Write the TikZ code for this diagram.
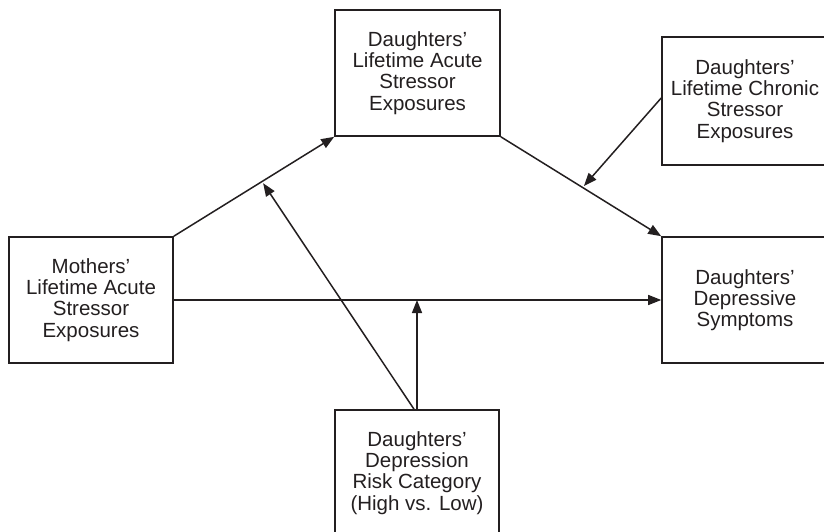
\documentclass[tikz,border=0pt]{standalone}
\usepackage{fontspec}
\setmainfont{Liberation Sans}
\usetikzlibrary{arrows.meta,calc}
\definecolor{ink}{HTML}{231F20}
\begin{document}
\begin{tikzpicture}[x=1pt,y=-1pt,
  box/.style={draw=ink,line width=1.6pt,rectangle,align=center,inner sep=0pt,
    font=\fontsize{20.5}{21.2}\selectfont,text=ink},
  conn/.style={draw=ink,line width=1.5pt,-{Triangle[length=13pt,width=10pt]}}]
\useasboundingbox (0,0) rectangle (824,532);
\begin{scope}
\clip (0,0) rectangle (824,532);
\node[box,minimum width=164pt,minimum height=126pt] (M) at (91,300) {Mothers'\\Lifetime Acute\\Stressor\\Exposures};
\node[box,minimum width=165pt,minimum height=126pt] (A) at (417.5,73) {Daughters'\\Lifetime Acute\\Stressor\\Exposures};
\node[box,minimum width=166pt,minimum height=128pt] (C) at (745,101) {Daughters'\\Lifetime Chronic\\Stressor\\Exposures};
\node[box,minimum width=166pt,minimum height=126pt] (D) at (745,300) {Daughters'\\Depressive\\Symptoms};
\node[box,minimum width=164pt,minimum height=126pt] (R) at (417,473) {Daughters'\\Depression\\Risk Category\\(High vs. Low)};
\end{scope}
\coordinate (c1) at ($(A.south east)!0.51!(D.north west)$);
\coordinate (c2) at ($(M.north east)!0.55!(A.south west)$);
\coordinate (c3) at (R.north |- M.east);
\draw[conn] (M.north east) -- (A.south west);
\draw[conn] (A.south east) -- (D.north west);
\draw[conn] (M.east) -- (D.west);
\draw[conn,shorten >=2pt] ([yshift=3pt]C.west) -- (c1);
\draw[conn] (R.north) -- (c3);
\draw[conn,shorten >=2pt] ([xshift=-3pt]R.north) -- (c2);
\end{tikzpicture}
\end{document}
